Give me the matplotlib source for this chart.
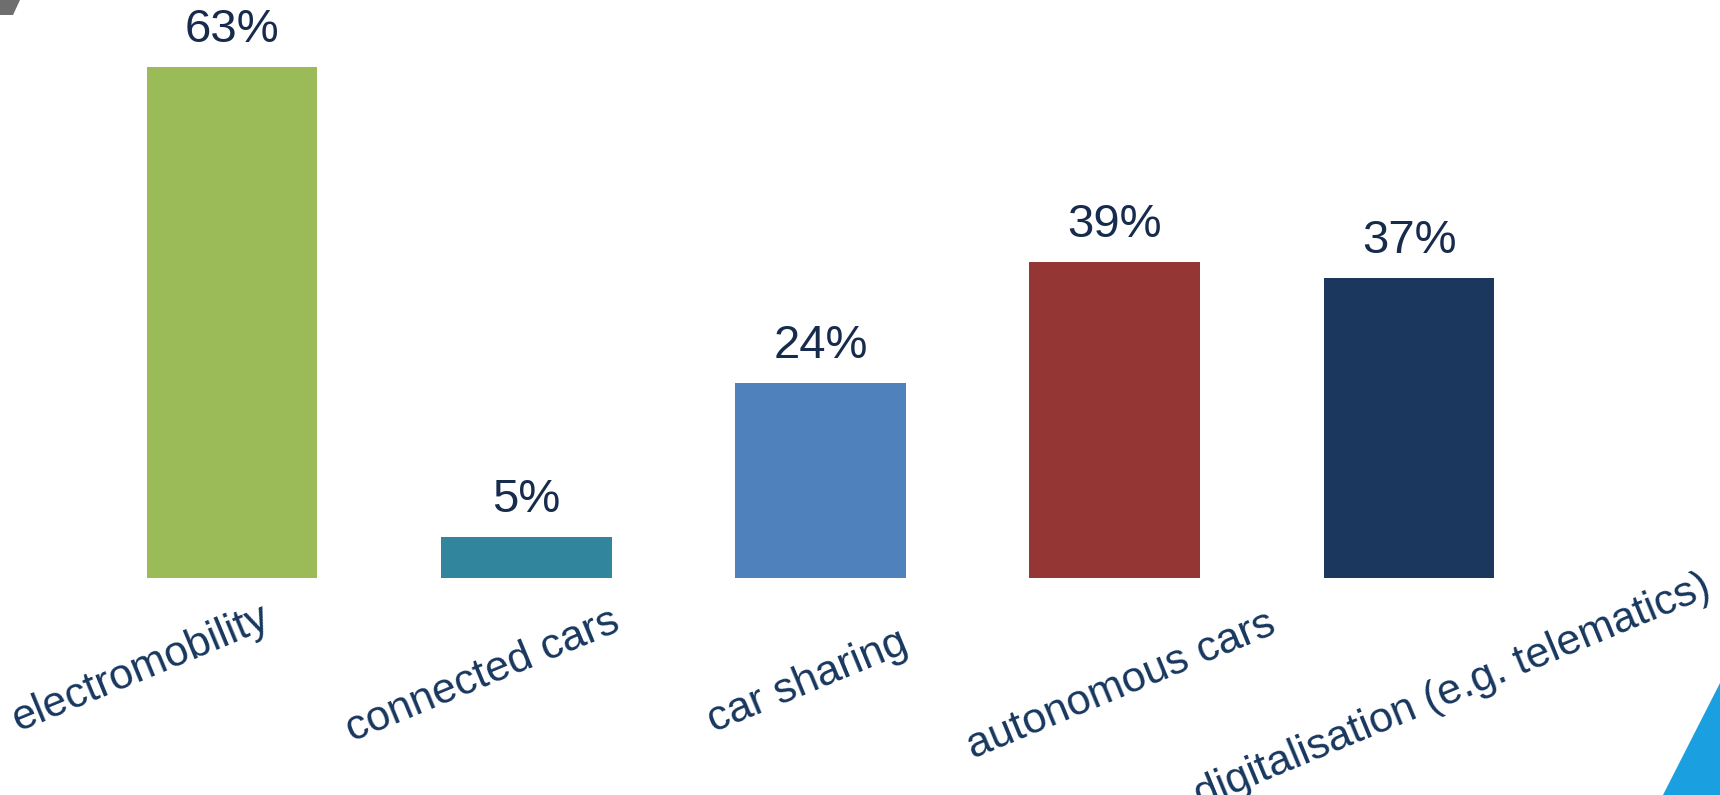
import matplotlib
matplotlib.use("Agg")
import matplotlib.pyplot as plt
from matplotlib.patches import Polygon
from matplotlib.transforms import offset_copy

categories = ["electromobility", "connected cars", "car sharing",
              "autonomous cars", "digitalisation (e.g. telematics)"]
values = [63, 5, 24, 39, 37]
value_labels = ["63%", "5%", "24%", "39%", "37%"]
colors = ["#9BBB59", "#31859C", "#4F81BD", "#943634", "#1B375D"]

# layout offsets for category labels (pixels, relative to bar centre / baseline)
label_dx = [-92, -44, -13, 6, 44]
label_dy = [-91, -98, -104, -108, -113]

W, H, DPI = 1720, 795, 100
fig = plt.figure(figsize=(W / DPI, H / DPI), dpi=DPI)
fig.patch.set_facecolor("white")
plt.rcParams["font.family"] = ["Liberation Sans", "DejaVu Sans"]

ax = fig.add_axes([0, (795 - 578) / 795, 1, 578 / 795])
x = list(range(len(categories)))
ax.bar(x, values, width=0.58, color=colors)
ax.set_xlim(-232 / 294.25, (1720 - 232) / 294.25)
ax.set_ylim(0, 578 / 8.11)
ax.axis("off")

value_color = "#172B4D"
label_color = "#17375E"
for xi, v, lab in zip(x, values, value_labels):
    ax.annotate(lab, (xi, v), xytext=(0, 18), textcoords="offset points",
                ha="center", va="baseline", fontsize=34, color=value_color)

for xi, cat, dx, dy in zip(x, categories, label_dx, label_dy):
    tr = offset_copy(ax.transData, fig=fig, x=dx * 72 / DPI, y=dy * 72 / DPI, units="points")
    ax.text(xi, 0, cat, transform=tr, rotation=22.5, rotation_mode="anchor",
            ha="center", va="center", fontsize=31, color=label_color, clip_on=False)

# decorative shapes (slide template)
fig.patches.append(Polygon([(0, 1), (20 / W, 1), (13 / W, 1 - 15 / H), (0, 1 - 15 / H)],
                           closed=True, transform=fig.transFigure, facecolor="#6E6E6E",
                           edgecolor="none"))
fig.patches.append(Polygon([(1663 / W, 0), (1, 0), (1, 1 - 683 / H)],
                           closed=True, transform=fig.transFigure, facecolor="#1A9FE0",
                           edgecolor="none"))

fig.savefig("out.png", dpi=DPI, facecolor="white")
